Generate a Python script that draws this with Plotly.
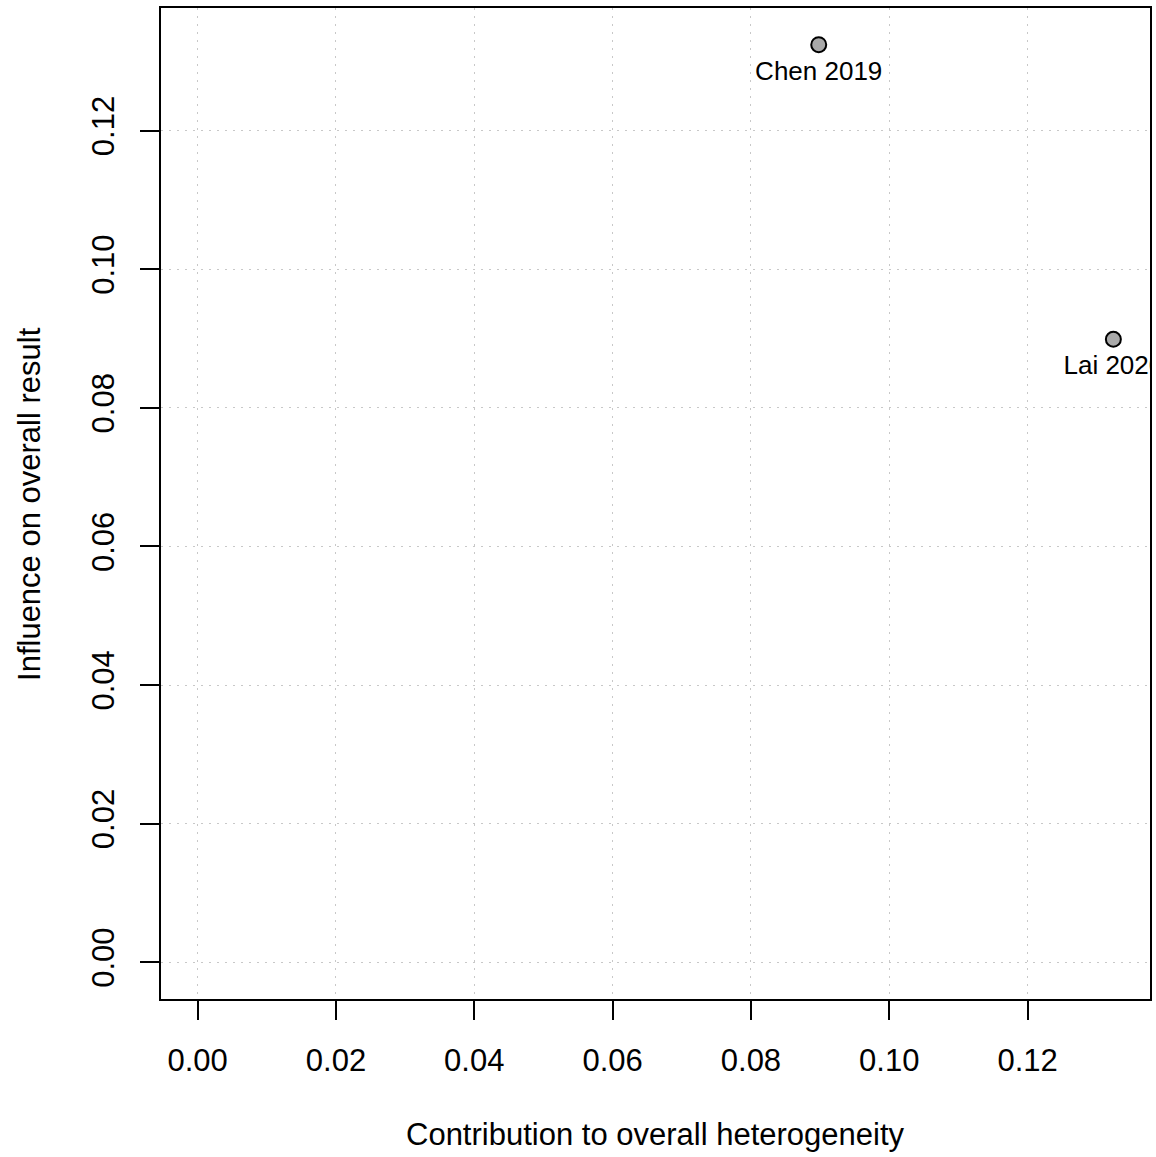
import plotly.graph_objects as go

# Baujat plot: per-study contribution to heterogeneity vs influence on the pooled result
studies = ["Chen 2019", "Lai 2020"]
heterogeneity_contrib = [0.0898, 0.1324]
influence = [0.1324, 0.0899]

tick_vals = [0.00, 0.02, 0.04, 0.06, 0.08, 0.10, 0.12]
tick_text = ["0.00", "0.02", "0.04", "0.06", "0.08", "0.10", "0.12"]

FONT = "Liberation Sans, Arial, Helvetica, sans-serif"

# R-style axis ranges: data range from 0 extended by 4% on both sides
def padded(values):
    lo, hi = 0.0, max(values)
    span = hi - lo
    return [lo - 0.04 * span, hi + 0.04 * span]

fig = go.Figure()

# study labels below each point (invisible, wider marker sets the label gap)
fig.add_trace(go.Scatter(
    x=heterogeneity_contrib,
    y=influence,
    mode="markers+text",
    text=studies,
    textposition="bottom center",
    textfont=dict(family=FONT, size=26, color="black"),
    marker=dict(size=23, color="rgba(0,0,0,0)"),
    cliponaxis=True,
    hoverinfo="skip",
    showlegend=False,
))

# study points
fig.add_trace(go.Scatter(
    x=heterogeneity_contrib,
    y=influence,
    mode="markers",
    marker=dict(size=15, color="#A9A9A9", line=dict(color="black", width=2)),
    cliponaxis=True,
    hovertext=studies,
    hoverinfo="text+x+y",
    showlegend=False,
))

axis_common = dict(
    tickvals=tick_vals,
    ticktext=tick_text,
    showgrid=True,
    gridcolor="#C8C8C8",
    gridwidth=1,
    griddash="1.5px,6.5px",
    zeroline=False,
    showline=True,
    linecolor="black",
    linewidth=2,
    mirror=True,
    ticks="outside",
    ticklen=19,
    tickwidth=2,
    tickcolor="black",
    tickfont=dict(family=FONT, size=31, color="black"),
)

fig.update_xaxes(range=padded(heterogeneity_contrib), ticklabelstandoff=14, **axis_common)
fig.update_yaxes(range=padded(influence), tickangle=-90, ticklabelstandoff=14, **axis_common)

fig.add_annotation(
    text="Contribution to overall heterogeneity",
    xref="paper", yref="paper", x=0.5, y=-0.1365,
    xanchor="center", yanchor="middle", showarrow=False,
    font=dict(family=FONT, size=31, color="black"),
)
fig.add_annotation(
    text="Influence on overall result",
    xref="paper", yref="paper", x=-0.133, y=0.5,
    xanchor="center", yanchor="middle", showarrow=False, textangle=-90,
    font=dict(family=FONT, size=31, color="black"),
)

fig.update_layout(
    width=1156,
    height=1157,
    margin=dict(l=161, r=4, t=8, b=158),
    paper_bgcolor="white",
    plot_bgcolor="white",
    font=dict(family=FONT, color="black"),
)

fig.write_html("out.html")
